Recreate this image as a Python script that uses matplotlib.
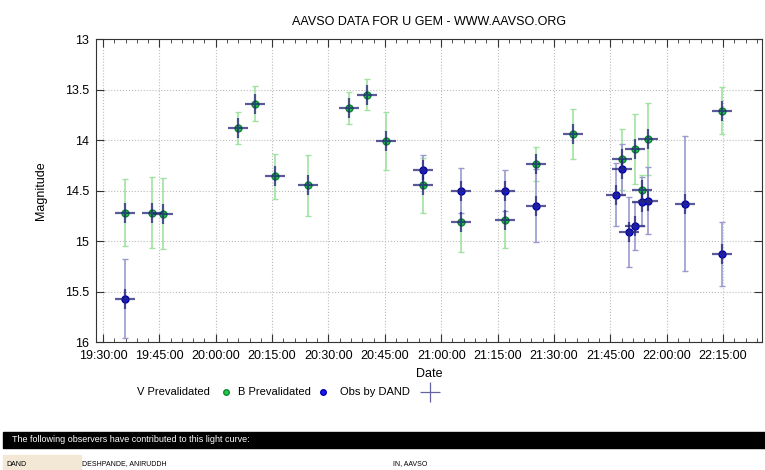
import pandas as pd
import matplotlib
matplotlib.use("Agg")
import matplotlib.pyplot as plt
import matplotlib.dates as mdates
from matplotlib.lines import Line2D
from matplotlib.patches import Rectangle

plt.rcParams["font.family"] = ["Liberation Sans", "DejaVu Sans"]

# -----------------------------
# Data
# -----------------------------
day = "2019-01-01 "

v_times = ["19:35:50", "19:43:10", "19:46:05", "20:05:54", "20:10:28",
           "20:15:40", "20:24:40", "20:35:32", "20:40:18", "20:45:11",
           "20:55:14", "21:05:18", "21:17:00", "21:25:06", "21:34:56",
           "21:48:06", "21:51:40", "21:53:18", "21:54:54", "22:14:48"]
v_mags = [14.72, 14.72, 14.73, 13.88, 13.64, 14.36, 14.45, 13.68, 13.55, 14.01,
          14.45, 14.81, 14.79, 14.24, 13.94, 14.19, 14.09, 14.49, 13.99, 13.71]
v_errs = [0.33, 0.35, 0.35, 0.16, 0.17, 0.22, 0.30, 0.16, 0.15, 0.29,
          0.27, 0.30, 0.28, 0.17, 0.25, 0.30, 0.35, 0.14, 0.36, 0.23]

b_times = ["19:35:50", "20:55:14", "21:05:18", "21:17:00", "21:25:06",
           "21:46:36", "21:48:06", "21:49:54", "21:51:40", "21:53:18",
           "21:54:54", "22:04:48", "22:14:48"]
b_mags = [15.57, 14.30, 14.50, 14.50, 14.65, 14.54, 14.29, 14.91, 14.85, 14.61,
          14.60, 14.63, 15.13]
b_errs = [0.39, 0.15, 0.22, 0.20, 0.36, 0.31, 0.25, 0.35, 0.24, 0.24,
          0.33, 0.67, 0.32]

title = "AAVSO DATA FOR U GEM - WWW.AAVSO.ORG"
legend_labels = ["V Prevalidated", "B Prevalidated", "Obs by DAND"]

v_t = pd.to_datetime([day + t for t in v_times])
b_t = pd.to_datetime([day + t for t in b_times])

# -----------------------------
# Figure
# -----------------------------
fig = plt.figure(figsize=(7.65, 4.70), dpi=100)
ax = fig.add_axes([0.1255, 0.2723, 0.8705, 0.6447])

green = "#22cc44"
blue = "#1a1aee"
navy = "#232378"

ax.errorbar(v_t, v_mags, yerr=v_errs, fmt="none", ecolor="#9fe39f",
            elinewidth=1.2, capsize=2.5, zorder=2)
ax.errorbar(b_t, b_mags, yerr=b_errs, fmt="none", ecolor="#9a9ad0",
            elinewidth=1.2, capsize=2.5, zorder=2)
ax.plot(v_t, v_mags, "o", color=green, mec="#118833", ms=5, zorder=3)
ax.plot(b_t, b_mags, "o", color=blue, mec="#0000aa", ms=5, zorder=3)

# DAND crosses sit on every observation
all_t = list(v_t) + list(b_t)
all_m = v_mags + b_mags
ax.plot(all_t, all_m, "+", color=navy, ms=15, mew=1.6, alpha=0.75, zorder=4)

ax.set_ylim(16, 13)
ax.set_yticks([13, 13.5, 14, 14.5, 15, 15.5, 16])
ax.set_yticklabels(["13", "13.5", "14", "14.5", "15", "15.5", "16"])
ax.set_xlim(pd.Timestamp(day + "19:28:09"), pd.Timestamp(day + "22:25:20"))
ax.xaxis.set_major_locator(mdates.MinuteLocator(byminute=[0, 15, 30, 45]))
ax.xaxis.set_minor_locator(mdates.MinuteLocator(byminute=range(0, 60, 3)))
ax.xaxis.set_major_formatter(mdates.DateFormatter("%H:%M:%S"))

ax.grid(True, which="major", linestyle=":", color="#bbbbbb", linewidth=0.8)
ax.tick_params(which="both", direction="in", top=True, right=True,
               labelsize=9, color="#333333")
ax.tick_params(which="major", length=6)
ax.tick_params(which="minor", length=3)
ax.tick_params(axis="x", pad=6)
ax.tick_params(axis="y", pad=5)
for s in ax.spines.values():
    s.set_color("#333333")

ax.set_title(title, fontsize=9, pad=10)
ax.set_xlabel("Date", fontsize=9, labelpad=4)
ax.set_ylabel("Magnitude", fontsize=9, labelpad=13)

# -----------------------------
# Legend (drawn by hand below the axes)
# -----------------------------
ly = 1 - 392 / 470
fig.text(210 / 765, ly, legend_labels[0], fontsize=8, va="center", ha="right")
fig.add_artist(Line2D([226 / 765], [ly], marker="o", color=green,
                      mec="#118833", ms=4, transform=fig.transFigure))
fig.text(311 / 765, ly, legend_labels[1], fontsize=8, va="center", ha="right")
fig.add_artist(Line2D([323 / 765], [ly], marker="o", color=blue,
                      mec="#0000aa", ms=4, transform=fig.transFigure))
fig.text(410 / 765, ly, legend_labels[2], fontsize=8, va="center", ha="right")
fig.add_artist(Line2D([430 / 765], [ly], marker="+", color=navy, ms=15,
                      mew=0.9, alpha=0.7, transform=fig.transFigure))

# -----------------------------
# Observer table
# -----------------------------
fig.add_artist(Rectangle((3 / 765, 1 - 448 / 470), 762 / 765, 16 / 470,
                         color="black", transform=fig.transFigure))
fig.text(12 / 765, 1 - 440 / 470,
         "The following observers have contributed to this light curve:",
         color="white", fontsize=6.5, va="center")
fig.add_artist(Rectangle((3 / 765, 0), 78 / 765, 15 / 470,
                         color="#f2e8d5", transform=fig.transFigure))
fig.text(6 / 765, 1 - 464 / 470, "DAND", fontsize=5, va="center")
fig.text(82 / 765, 1 - 464 / 470, "DESHPANDE, ANIRUDDH", fontsize=5, va="center")
fig.text(393 / 765, 1 - 464 / 470, "IN, AAVSO", fontsize=5, va="center")

fig.savefig("out.png", dpi=100)
